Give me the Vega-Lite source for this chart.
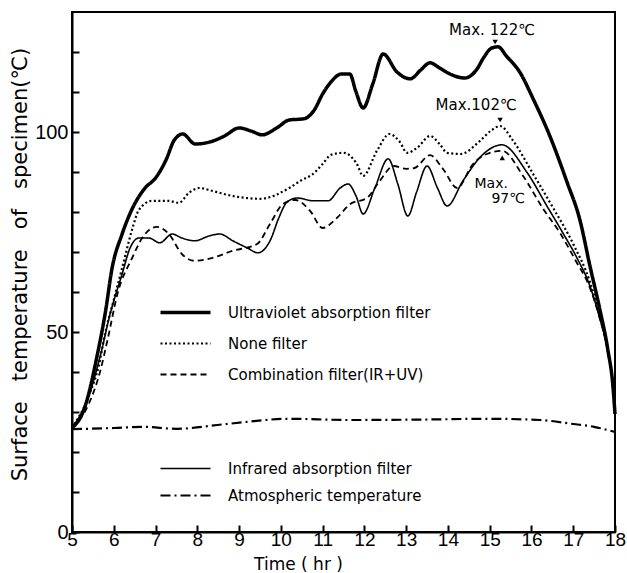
{
  "$schema": "https://vega.github.io/schema/vega-lite/v6.json",
  "width": 543,
  "height": 520,
  "autosize": "none",
  "padding": {"left": 72, "top": 12, "right": 12, "bottom": 41},
  "background": "white",
  "config": {
    "view": {"stroke": "black", "strokeWidth": 2},
    "axis": {"domainColor": "black", "domainWidth": 2, "tickColor": "black", "tickWidth": 2, "labelColor": "black", "titleColor": "black", "grid": false},
    "legend": {"labelFont": "DejaVu Sans", "labelFontSize": 15, "labelColor": "black", "title": null, "labelLimit": 0}
  },
  "data": {"values": [
    {"s":"Ultraviolet absorption filter","t":5,"temp":26},
    {"s":"Ultraviolet absorption filter","t":5.3,"temp":31},
    {"s":"Ultraviolet absorption filter","t":5.6,"temp":44},
    {"s":"Ultraviolet absorption filter","t":5.8,"temp":55},
    {"s":"Ultraviolet absorption filter","t":5.96,"temp":66},
    {"s":"Ultraviolet absorption filter","t":6.2,"temp":74.5},
    {"s":"Ultraviolet absorption filter","t":6.45,"temp":81},
    {"s":"Ultraviolet absorption filter","t":6.75,"temp":86},
    {"s":"Ultraviolet absorption filter","t":7.0,"temp":88.5},
    {"s":"Ultraviolet absorption filter","t":7.25,"temp":93},
    {"s":"Ultraviolet absorption filter","t":7.45,"temp":98},
    {"s":"Ultraviolet absorption filter","t":7.65,"temp":99.5},
    {"s":"Ultraviolet absorption filter","t":7.95,"temp":97},
    {"s":"Ultraviolet absorption filter","t":8.3,"temp":97.5},
    {"s":"Ultraviolet absorption filter","t":8.65,"temp":99},
    {"s":"Ultraviolet absorption filter","t":9.0,"temp":101},
    {"s":"Ultraviolet absorption filter","t":9.3,"temp":100.2},
    {"s":"Ultraviolet absorption filter","t":9.55,"temp":99.3},
    {"s":"Ultraviolet absorption filter","t":9.9,"temp":101},
    {"s":"Ultraviolet absorption filter","t":10.2,"temp":103},
    {"s":"Ultraviolet absorption filter","t":10.55,"temp":103.3},
    {"s":"Ultraviolet absorption filter","t":10.8,"temp":105.5},
    {"s":"Ultraviolet absorption filter","t":11.0,"temp":109.5},
    {"s":"Ultraviolet absorption filter","t":11.2,"temp":112.5},
    {"s":"Ultraviolet absorption filter","t":11.45,"temp":114.5},
    {"s":"Ultraviolet absorption filter","t":11.65,"temp":114.5},
    {"s":"Ultraviolet absorption filter","t":11.8,"temp":110},
    {"s":"Ultraviolet absorption filter","t":11.97,"temp":106},
    {"s":"Ultraviolet absorption filter","t":12.2,"temp":112},
    {"s":"Ultraviolet absorption filter","t":12.45,"temp":119.5},
    {"s":"Ultraviolet absorption filter","t":12.78,"temp":115},
    {"s":"Ultraviolet absorption filter","t":13.1,"temp":113.3},
    {"s":"Ultraviolet absorption filter","t":13.35,"temp":115.5},
    {"s":"Ultraviolet absorption filter","t":13.57,"temp":117.3},
    {"s":"Ultraviolet absorption filter","t":13.8,"temp":116},
    {"s":"Ultraviolet absorption filter","t":14.05,"temp":114.5},
    {"s":"Ultraviolet absorption filter","t":14.4,"temp":113.5},
    {"s":"Ultraviolet absorption filter","t":14.7,"temp":115.8},
    {"s":"Ultraviolet absorption filter","t":14.85,"temp":118.5},
    {"s":"Ultraviolet absorption filter","t":15.05,"temp":121},
    {"s":"Ultraviolet absorption filter","t":15.2,"temp":121.3},
    {"s":"Ultraviolet absorption filter","t":15.4,"temp":119},
    {"s":"Ultraviolet absorption filter","t":15.73,"temp":114.8},
    {"s":"Ultraviolet absorption filter","t":16.04,"temp":108.3},
    {"s":"Ultraviolet absorption filter","t":16.44,"temp":99},
    {"s":"Ultraviolet absorption filter","t":16.85,"temp":87.5},
    {"s":"Ultraviolet absorption filter","t":17.16,"temp":78},
    {"s":"Ultraviolet absorption filter","t":17.4,"temp":66.5},
    {"s":"Ultraviolet absorption filter","t":17.64,"temp":55.5},
    {"s":"Ultraviolet absorption filter","t":17.83,"temp":45.5},
    {"s":"Ultraviolet absorption filter","t":17.95,"temp":36.5},
    {"s":"Ultraviolet absorption filter","t":18,"temp":29.5},

    {"s":"None filter","t":5,"temp":26},
    {"s":"None filter","t":5.4,"temp":34},
    {"s":"None filter","t":5.65,"temp":42},
    {"s":"None filter","t":5.79,"temp":49.5},
    {"s":"None filter","t":6.0,"temp":58},
    {"s":"None filter","t":6.2,"temp":66},
    {"s":"None filter","t":6.45,"temp":76},
    {"s":"None filter","t":6.6,"temp":80.5},
    {"s":"None filter","t":6.92,"temp":82.8},
    {"s":"None filter","t":7.3,"temp":82.8},
    {"s":"None filter","t":7.56,"temp":82.3},
    {"s":"None filter","t":7.8,"temp":84.8},
    {"s":"None filter","t":8.05,"temp":86},
    {"s":"None filter","t":8.35,"temp":85.3},
    {"s":"None filter","t":8.85,"temp":84},
    {"s":"None filter","t":9.5,"temp":83.3},
    {"s":"None filter","t":10.2,"temp":86},
    {"s":"None filter","t":10.5,"temp":88},
    {"s":"None filter","t":10.77,"temp":89.5},
    {"s":"None filter","t":11.0,"temp":92},
    {"s":"None filter","t":11.2,"temp":94.3},
    {"s":"None filter","t":11.5,"temp":94.8},
    {"s":"None filter","t":11.82,"temp":92},
    {"s":"None filter","t":11.97,"temp":89},
    {"s":"None filter","t":12.3,"temp":95.3},
    {"s":"None filter","t":12.6,"temp":99.5},
    {"s":"None filter","t":12.85,"temp":97.5},
    {"s":"None filter","t":13.02,"temp":94.8},
    {"s":"None filter","t":13.26,"temp":96},
    {"s":"None filter","t":13.57,"temp":99},
    {"s":"None filter","t":13.8,"temp":97},
    {"s":"None filter","t":13.98,"temp":94.8},
    {"s":"None filter","t":14.3,"temp":94.5},
    {"s":"None filter","t":14.77,"temp":97.8},
    {"s":"None filter","t":15.05,"temp":100.5},
    {"s":"None filter","t":15.25,"temp":101.5},
    {"s":"None filter","t":15.56,"temp":97.8},
    {"s":"None filter","t":16.04,"temp":89.5},
    {"s":"None filter","t":16.52,"temp":81},
    {"s":"None filter","t":17.0,"temp":72},
    {"s":"None filter","t":17.4,"temp":62.5},
    {"s":"None filter","t":17.62,"temp":54.5},
    {"s":"None filter","t":17.83,"temp":45},
    {"s":"None filter","t":17.95,"temp":36.5},
    {"s":"None filter","t":18,"temp":29.5},

    {"s":"Combination filter(IR+UV)","t":5,"temp":26},
    {"s":"Combination filter(IR+UV)","t":5.4,"temp":32},
    {"s":"Combination filter(IR+UV)","t":5.67,"temp":40},
    {"s":"Combination filter(IR+UV)","t":5.85,"temp":48},
    {"s":"Combination filter(IR+UV)","t":6.1,"temp":60},
    {"s":"Combination filter(IR+UV)","t":6.44,"temp":68.5},
    {"s":"Combination filter(IR+UV)","t":6.68,"temp":73.5},
    {"s":"Combination filter(IR+UV)","t":7.03,"temp":76.3},
    {"s":"Combination filter(IR+UV)","t":7.32,"temp":74.5},
    {"s":"Combination filter(IR+UV)","t":7.63,"temp":69.5},
    {"s":"Combination filter(IR+UV)","t":7.94,"temp":67.8},
    {"s":"Combination filter(IR+UV)","t":8.35,"temp":68.5},
    {"s":"Combination filter(IR+UV)","t":8.85,"temp":70.3},
    {"s":"Combination filter(IR+UV)","t":9.43,"temp":72},
    {"s":"Combination filter(IR+UV)","t":9.74,"temp":77},
    {"s":"Combination filter(IR+UV)","t":10.05,"temp":82},
    {"s":"Combination filter(IR+UV)","t":10.35,"temp":83},
    {"s":"Combination filter(IR+UV)","t":10.7,"temp":80.3},
    {"s":"Combination filter(IR+UV)","t":11.0,"temp":76},
    {"s":"Combination filter(IR+UV)","t":11.34,"temp":78.5},
    {"s":"Combination filter(IR+UV)","t":11.66,"temp":82},
    {"s":"Combination filter(IR+UV)","t":12.06,"temp":83.5},
    {"s":"Combination filter(IR+UV)","t":12.37,"temp":87.8},
    {"s":"Combination filter(IR+UV)","t":12.7,"temp":91.5},
    {"s":"Combination filter(IR+UV)","t":13.0,"temp":90.8},
    {"s":"Combination filter(IR+UV)","t":13.2,"temp":91},
    {"s":"Combination filter(IR+UV)","t":13.57,"temp":94.2},
    {"s":"Combination filter(IR+UV)","t":13.88,"temp":90.8},
    {"s":"Combination filter(IR+UV)","t":14.22,"temp":86},
    {"s":"Combination filter(IR+UV)","t":14.6,"temp":92},
    {"s":"Combination filter(IR+UV)","t":14.93,"temp":94.5},
    {"s":"Combination filter(IR+UV)","t":15.3,"temp":95.3},
    {"s":"Combination filter(IR+UV)","t":15.8,"temp":89},
    {"s":"Combination filter(IR+UV)","t":16.28,"temp":80.8},
    {"s":"Combination filter(IR+UV)","t":16.68,"temp":74.8},
    {"s":"Combination filter(IR+UV)","t":17.05,"temp":68},
    {"s":"Combination filter(IR+UV)","t":17.4,"temp":61},
    {"s":"Combination filter(IR+UV)","t":17.62,"temp":54},
    {"s":"Combination filter(IR+UV)","t":17.83,"temp":45},
    {"s":"Combination filter(IR+UV)","t":17.95,"temp":36.5},
    {"s":"Combination filter(IR+UV)","t":18,"temp":29.5},

    {"s":"Infrared absorption filter","t":5,"temp":26},
    {"s":"Infrared absorption filter","t":5.4,"temp":34},
    {"s":"Infrared absorption filter","t":5.7,"temp":45},
    {"s":"Infrared absorption filter","t":5.9,"temp":54},
    {"s":"Infrared absorption filter","t":6.2,"temp":64.5},
    {"s":"Infrared absorption filter","t":6.39,"temp":71},
    {"s":"Infrared absorption filter","t":6.6,"temp":73.5},
    {"s":"Infrared absorption filter","t":6.84,"temp":73.5},
    {"s":"Infrared absorption filter","t":7.1,"temp":72.3},
    {"s":"Infrared absorption filter","t":7.4,"temp":74.5},
    {"s":"Infrared absorption filter","t":7.63,"temp":73.5},
    {"s":"Infrared absorption filter","t":7.94,"temp":72.8},
    {"s":"Infrared absorption filter","t":8.28,"temp":74},
    {"s":"Infrared absorption filter","t":8.54,"temp":74.5},
    {"s":"Infrared absorption filter","t":8.85,"temp":72.8},
    {"s":"Infrared absorption filter","t":9.2,"temp":71},
    {"s":"Infrared absorption filter","t":9.45,"temp":69.8},
    {"s":"Infrared absorption filter","t":9.75,"temp":73},
    {"s":"Infrared absorption filter","t":9.95,"temp":78.5},
    {"s":"Infrared absorption filter","t":10.15,"temp":82.5},
    {"s":"Infrared absorption filter","t":10.39,"temp":83.5},
    {"s":"Infrared absorption filter","t":10.77,"temp":82.8},
    {"s":"Infrared absorption filter","t":11.13,"temp":82.8},
    {"s":"Infrared absorption filter","t":11.42,"temp":86},
    {"s":"Infrared absorption filter","t":11.61,"temp":87},
    {"s":"Infrared absorption filter","t":11.8,"temp":84},
    {"s":"Infrared absorption filter","t":11.97,"temp":79.5},
    {"s":"Infrared absorption filter","t":12.25,"temp":86},
    {"s":"Infrared absorption filter","t":12.57,"temp":93.3},
    {"s":"Infrared absorption filter","t":12.8,"temp":87},
    {"s":"Infrared absorption filter","t":13.04,"temp":79},
    {"s":"Infrared absorption filter","t":13.25,"temp":85},
    {"s":"Infrared absorption filter","t":13.5,"temp":91.5},
    {"s":"Infrared absorption filter","t":13.75,"temp":86},
    {"s":"Infrared absorption filter","t":13.98,"temp":81.5},
    {"s":"Infrared absorption filter","t":14.36,"temp":87.8},
    {"s":"Infrared absorption filter","t":14.8,"temp":94},
    {"s":"Infrared absorption filter","t":15.29,"temp":96.8},
    {"s":"Infrared absorption filter","t":15.9,"temp":89.8},
    {"s":"Infrared absorption filter","t":16.37,"temp":81.5},
    {"s":"Infrared absorption filter","t":16.75,"temp":74.8},
    {"s":"Infrared absorption filter","t":17.09,"temp":68.5},
    {"s":"Infrared absorption filter","t":17.4,"temp":61.5},
    {"s":"Infrared absorption filter","t":17.62,"temp":54},
    {"s":"Infrared absorption filter","t":17.83,"temp":45},
    {"s":"Infrared absorption filter","t":17.95,"temp":36.5},
    {"s":"Infrared absorption filter","t":18,"temp":29.5},

    {"s":"Atmospheric temperature","t":5,"temp":25.7},
    {"s":"Atmospheric temperature","t":6,"temp":26},
    {"s":"Atmospheric temperature","t":6.7,"temp":26.3},
    {"s":"Atmospheric temperature","t":7.5,"temp":25.8},
    {"s":"Atmospheric temperature","t":8.7,"temp":27},
    {"s":"Atmospheric temperature","t":10.2,"temp":28.3},
    {"s":"Atmospheric temperature","t":11.6,"temp":28},
    {"s":"Atmospheric temperature","t":13.3,"temp":28.1},
    {"s":"Atmospheric temperature","t":15,"temp":28.3},
    {"s":"Atmospheric temperature","t":16.2,"temp":28},
    {"s":"Atmospheric temperature","t":17,"temp":27},
    {"s":"Atmospheric temperature","t":17.5,"temp":26.3},
    {"s":"Atmospheric temperature","t":18,"temp":25}
  ]},
  "encoding": {
    "x": {"field": "t", "type": "quantitative",
      "scale": {"domain": [5, 18], "nice": false, "zero": false},
      "axis": {"title": "Time ( hr )", "values": [5,6,7,8,9,10,11,12,13,14,15,16,17,18],
        "labelFont": "Liberation Sans", "labelFontSize": 19, "labelFontWeight": "normal",
        "tickSize": -7, "labelPadding": 5, "labelFlush": false,
        "titleFont": "DejaVu Sans", "titleFontSize": 17, "titleFontWeight": "normal",
        "titleX": 226, "titleY": 32.5, "titleBaseline": "middle", "titleAlign": "center"}},
    "y": {"field": "temp", "type": "quantitative",
      "scale": {"domain": [0, 130], "nice": false},
      "axis": {"title": "Surface\u00a0\u00a0 temperature\u00a0\u00a0 of\u00a0\u00a0 specimen(℃)", "values": [0,10,20,30,40,50,60,70,80,90,100,110,120],
        "labelExpr": "datum.value % 50 === 0 ? datum.label : ''",
        "labelFont": "Liberation Sans", "labelFontSize": 20,
        "tickSize": -7, "labelPadding": 11,
        "titleFont": "DejaVu Sans", "titleFontSize": 21, "titleFontWeight": "normal",
        "titleX": -52, "titleY": 252, "titleBaseline": "middle", "titleAlign": "center", "titleAngle": -90}}
  },
  "layer": [
    {
      "transform": [{"filter": {"field": "s", "oneOf": ["Ultraviolet absorption filter", "None filter", "Combination filter(IR+UV)"]}}],
      "mark": {"type": "line", "interpolate": "monotone", "color": "black"},
      "encoding": {
        "strokeDash": {"field": "s", "type": "nominal",
          "scale": {"domain": ["Ultraviolet absorption filter", "None filter", "Combination filter(IR+UV)"], "range": [[1, 0], [2, 2.5], [6, 4]]},
          "legend": {"orient": "none", "legendX": 106, "legendY": 293, "padding": 0, "rowPadding": 15,
            "symbolType": "M-5,0H5", "symbolSize": 100, "labelOffset": 35,
            "symbolStrokeColor": "black", "symbolFillColor": "transparent",
            "encode": {"symbols": {"update": {"strokeWidth": {"signal": "datum.value === 'Ultraviolet absorption filter' ? 3.5 : datum.value === 'None filter' ? 2.2 : 1.8"}}}}}},
        "strokeWidth": {"condition": [{"test": "datum.s === 'Ultraviolet absorption filter'", "value": 3.5}, {"test": "datum.s === 'None filter'", "value": 2.2}], "value": 1.8}
      }
    },
    {
      "transform": [{"filter": {"field": "s", "oneOf": ["Infrared absorption filter", "Atmospheric temperature"]}}],
      "mark": {"type": "line", "interpolate": "monotone", "color": "black"},
      "encoding": {
        "strokeDash": {"field": "s", "type": "nominal",
          "scale": {"domain": ["Infrared absorption filter", "Atmospheric temperature"], "range": [[1, 0], [10, 4, 2, 4]]},
          "legend": {"orient": "none", "legendX": 106, "legendY": 449, "padding": 0, "rowPadding": 11,
            "symbolType": "M-5,0H5", "symbolSize": 100, "labelOffset": 35,
            "symbolStrokeColor": "black", "symbolFillColor": "transparent",
            "encode": {"symbols": {"update": {"strokeWidth": {"signal": "datum.value === 'Infrared absorption filter' ? 1.6 : 2.2"}}}}}},
        "strokeWidth": {"condition": {"test": "datum.s === 'Infrared absorption filter'", "value": 1.6}, "value": 2.2}
      }
    },
    {
      "data": {"values": [{"t": 15.13, "temp": 121.5, "label": "Max. 122℃"}]},
      "mark": {"type": "text", "font": "DejaVu Sans", "fontSize": 15, "color": "black", "align": "center", "baseline": "middle", "dx": -3, "dy": -16},
      "encoding": {"text": {"field": "label"}}
    },
    {
      "data": {"values": [{"t": 15.13, "temp": 121.5}]},
      "mark": {"type": "point", "shape": "triangle-down", "filled": true, "color": "black", "size": 30, "yOffset": -4, "opacity": 1}
    },
    {
      "data": {"values": [{"t": 15.25, "temp": 101.5, "label": "Max.102℃"}]},
      "mark": {"type": "text", "font": "DejaVu Sans", "fontSize": 15, "color": "black", "align": "center", "baseline": "middle", "dx": -24, "dy": -21},
      "encoding": {"text": {"field": "label"}}
    },
    {
      "data": {"values": [{"t": 15.25, "temp": 101.5}]},
      "mark": {"type": "point", "shape": "triangle-down", "filled": true, "color": "black", "size": 30, "yOffset": -6, "opacity": 1}
    },
    {
      "data": {"values": [{"t": 15.3, "temp": 96.8, "label": "Max."}]},
      "mark": {"type": "text", "font": "DejaVu Sans", "fontSize": 14, "color": "black", "align": "center", "baseline": "middle", "dx": -11, "dy": 39},
      "encoding": {"text": {"field": "label"}}
    },
    {
      "data": {"values": [{"t": 15.3, "temp": 96.8, "label": "97℃"}]},
      "mark": {"type": "text", "font": "DejaVu Sans", "fontSize": 14, "color": "black", "align": "center", "baseline": "middle", "dx": 6, "dy": 54},
      "encoding": {"text": {"field": "label"}}
    },
    {
      "data": {"values": [{"t": 15.3, "temp": 96.8}]},
      "mark": {"type": "point", "shape": "triangle-up", "filled": true, "color": "black", "size": 30, "yOffset": 13, "opacity": 1}
    }
  ],
  "resolve": {"scale": {"strokeDash": "independent"}, "legend": {"strokeDash": "independent"}}
}
